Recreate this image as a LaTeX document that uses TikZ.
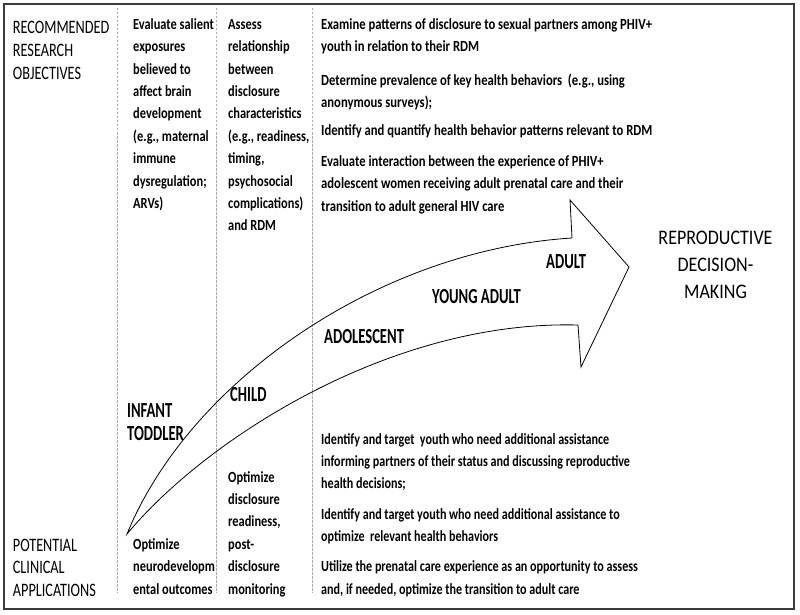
\documentclass[tikz,border=0pt]{standalone}
\usepackage{fontspec}
\setmainfont{Carlito}
\usepackage{graphicx}
\newcommand{\sqz}[5]{\scalebox{#1}[1]{\fontsize{#2}{#3}\selectfont\begin{tabular}[t]{@{}#4@{}}#5\end{tabular}}}
\newcommand{\body}[2][0.80]{\sqz{#1}{15.5pt}{22.4pt}{l}{#2}}
\newcommand{\side}[1]{\sqz{0.75}{19pt}{22.6pt}{l}{#1}}
\newcommand{\stage}[1]{\sqz{0.68}{21.5pt}{23pt}{l}{#1}}
\definecolor{frame}{RGB}{60,60,60}
\definecolor{dashc}{RGB}{170,170,170}
\begin{document}
\begin{tikzpicture}[x=1pt,y=-1pt,
  txt/.style={inner sep=0pt,anchor=base west},
  bodytxt/.style={txt,font=\bfseries},
  coldiv/.style={draw=dashc,line width=0.6pt,dash pattern=on 2.5pt off 1.5pt},
  arrowline/.style={draw=black,line width=0.8pt,line join=miter}]
\useasboundingbox (0,0) rectangle (800,615);
\draw[frame,line width=1.8pt] (4,4) rectangle (794,609);
% column dividers
\coordinate (d1t) at (117,8);  \coordinate (d1b) at (117,593);
\coordinate (d2t) at (216,8);  \coordinate (d2b) at (216,593);
\coordinate (d3t) at (312,8);  \coordinate (d3b) at (312,593);
\draw[coldiv] (d1t) -- (d1b);
\draw[coldiv] (d2t) -- (d2b);
\draw[coldiv] (d3t) -- (d3b);
% arrow
\coordinate (tail) at (127,534);
\coordinate (uin) at (572,238);
\coordinate (ubarb) at (570,200);
\coordinate (tip) at (629,267);
\coordinate (lbarb) at (581,367);
\coordinate (lin) at (578,325);
\draw[arrowline] (tail) .. controls (190,380) and (380,250) .. (uin) -- (ubarb) -- (tip) -- (lbarb) -- (lin) .. controls (390,320) and (205,440) .. (tail) -- cycle;
% left labels
\node[txt] (rro) at (12.7,34) {\side{RECOMMENDED\\RESEARCH\\OBJECTIVES}};
\node[txt] (pca) at (12.7,551) {\side{POTENTIAL\\CLINICAL\\APPLICATIONS}};
% top research objectives
\node[bodytxt] (o1) at (133,29.3) {\body{Evaluate salient\\exposures\\believed to\\affect brain\\development\\(e.g., maternal\\immune\\dysregulation;\\ARVs)}};
\node[bodytxt] (o2) at (228,29.3) {\body{Assess\\relationship\\between\\disclosure\\characteristics\\(e.g., readiness,\\timing,\\psychosocial\\complications)\\and RDM}};
\node[bodytxt] (o3) at (321,29.3) {\body[0.815]{Examine patterns of disclosure to sexual partners among PHIV+\\youth in relation to their RDM\\[11pt]
Determine prevalence of key health behaviors~ (e.g., using\\anonymous surveys);\\[6pt]
Identify and quantify health behavior patterns relevant to RDM\\[8pt]
Evaluate interaction between the experience of PHIV+\\adolescent women receiving adult prenatal care and their\\transition to adult general HIV care}};
% bottom clinical applications
\node[bodytxt] (a1) at (133,549.2) {\body{Optimize\\neurodevelopm\\ental outcomes}};
\node[bodytxt] (a2) at (228,482) {\body{Optimize\\disclosure\\readiness,\\post-\\disclosure\\monitoring}};
\node[bodytxt] (a3) at (321,444) {\body[0.78]{Identify and target~ youth who need additional assistance\\informing partners of their status and discussing reproductive\\health decisions;\\[7.8pt]
Identify and target youth who need additional assistance to\\optimize~ relevant health behaviors\\[7.8pt]
Utilize the prenatal care experience as an opportunity to assess\\and, if needed, optimize the transition to adult care}};
% stages
\node[bodytxt] (s1) at (127,417) {\stage{INFANT\\TODDLER}};
\node[bodytxt] (s2) at (230,401.7) {\stage{CHILD}};
\node[bodytxt] (s3) at (324,343.3) {\stage{ADOLESCENT}};
\node[bodytxt] (s4) at (432,303) {\stage{YOUNG ADULT}};
\node[bodytxt] (s5) at (546,268) {\stage{ADULT}};
% outcome
\node[inner sep=0pt,anchor=base] (rdm) at (715.5,244) {\sqz{0.87}{20.7pt}{27pt}{c}{REPRODUCTIVE\\DECISION-\\MAKING}};
\end{tikzpicture}
\end{document}
